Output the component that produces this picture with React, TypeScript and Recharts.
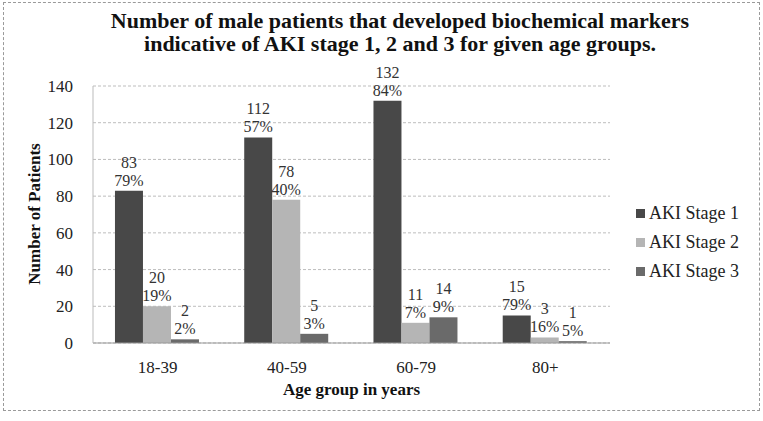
import React from 'react';
import { BarChart, Bar, XAxis, YAxis, CartesianGrid, LabelList } from 'recharts';

const ageGroups = ['18-39', '40-59', '60-79', '80+'];
const stage1 = [83, 112, 132, 15];
const stage2 = [20, 78, 11, 3];
const stage3 = [2, 5, 14, 1];
const stage1Pct = ['79%', '57%', '84%', '79%'];
const stage2Pct = ['19%', '40%', '7%', '16%'];
const stage3Pct = ['2%', '3%', '9%', '5%'];
const yTicks = [0, 20, 40, 60, 80, 100, 120, 140];

const data = ageGroups.map((g, i) => ({
  group: g,
  s1: stage1[i],
  s2: stage2[i],
  s3: stage3[i],
  p1: stage1Pct[i],
  p2: stage2Pct[i],
  p3: stage3Pct[i],
}));

const serif = '"Liberation Serif", "Times New Roman", serif';

// two-line label: count on top, share below
const makeLabel = (pctKey: string) => (props: any) => {
  const { x, y, width, value, index } = props;
  const pct = (data[index] as any)[pctKey];
  const cx = x + width / 2;
  return (
    <text x={cx} textAnchor="middle" style={{ fontFamily: serif, fontSize: 16 }} fill="#333">
      <tspan x={cx} y={y - 23}>{value}</tspan>
      <tspan x={cx} y={y - 5}>{pct}</tspan>
    </text>
  );
};

const legendItems = [
  { name: 'AKI Stage 1', color: '#484848' },
  { name: 'AKI Stage 2', color: '#b5b5b5' },
  { name: 'AKI Stage 3', color: '#6a6a6a' },
];

export default function App() {
  return (
    <div style={{ position: 'absolute', left: 0, top: 0, width: 763, height: 421, background: '#fff', fontFamily: serif }}>
      <div style={{ position: 'absolute', left: 3, top: 2, width: 755, height: 407, border: '1px dashed #9a9a9a' }} />
      <div style={{ position: 'absolute', left: 0, top: 9, width: 800, textAlign: 'center', fontWeight: 'bold', fontSize: 22, lineHeight: '23px', color: '#111' }}>
        Number of male patients that developed biochemical markers
        <br />
        indicative of AKI stage 1, 2 and 3 for given age groups.
      </div>
      <BarChart
        width={763}
        height={421}
        data={data}
        margin={{ top: 86, right: 153, left: 35, bottom: 48 }}
        barCategoryGap="17%"
        barGap={0}
        style={{ fontFamily: serif }}
      >
        <CartesianGrid vertical={false} stroke="#bdbdbd" strokeDasharray="3 2" />
        <XAxis
          dataKey="group"
          height={30}
          tick={{ fontFamily: serif, fontSize: 17, fill: '#222' }}
          tickLine={false}
          axisLine={{ stroke: '#999' }}
          tickMargin={12}
        />
        <YAxis
          width={58}
          domain={[0, 140]}
          ticks={yTicks}
          tick={{ fontFamily: serif, fontSize: 17, fill: '#222' }}
          axisLine={{ stroke: '#bbb' }}
          tickLine={false}
          tickMargin={14}
        />
        <Bar dataKey="s1" fill="#484848" isAnimationActive={false}>
          <LabelList dataKey="s1" content={makeLabel('p1')} />
        </Bar>
        <Bar dataKey="s2" fill="#b5b5b5" isAnimationActive={false}>
          <LabelList dataKey="s2" content={makeLabel('p2')} />
        </Bar>
        <Bar dataKey="s3" fill="#6a6a6a" isAnimationActive={false}>
          <LabelList dataKey="s3" content={makeLabel('p3')} />
        </Bar>
      </BarChart>
      <div
        style={{
          position: 'absolute', left: 35, top: 214, transform: 'translate(-50%, -50%) rotate(-90deg)',
          fontWeight: 'bold', fontSize: 17, whiteSpace: 'nowrap', color: '#111',
        }}
      >
        Number of Patients
      </div>
      <div style={{ position: 'absolute', left: 93, width: 517, top: 380, textAlign: 'center', fontWeight: 'bold', fontSize: 17, color: '#111' }}>
        Age group in years
      </div>
      <div style={{ position: 'absolute', left: 636, top: 199 }}>
        {legendItems.map((it) => (
          <div key={it.name} style={{ display: 'flex', alignItems: 'center', height: 29, fontSize: 18, color: '#222' }}>
            <span style={{ width: 9, height: 9, background: it.color, marginRight: 4, display: 'inline-block' }} />
            {it.name}
          </div>
        ))}
      </div>
    </div>
  );
}
